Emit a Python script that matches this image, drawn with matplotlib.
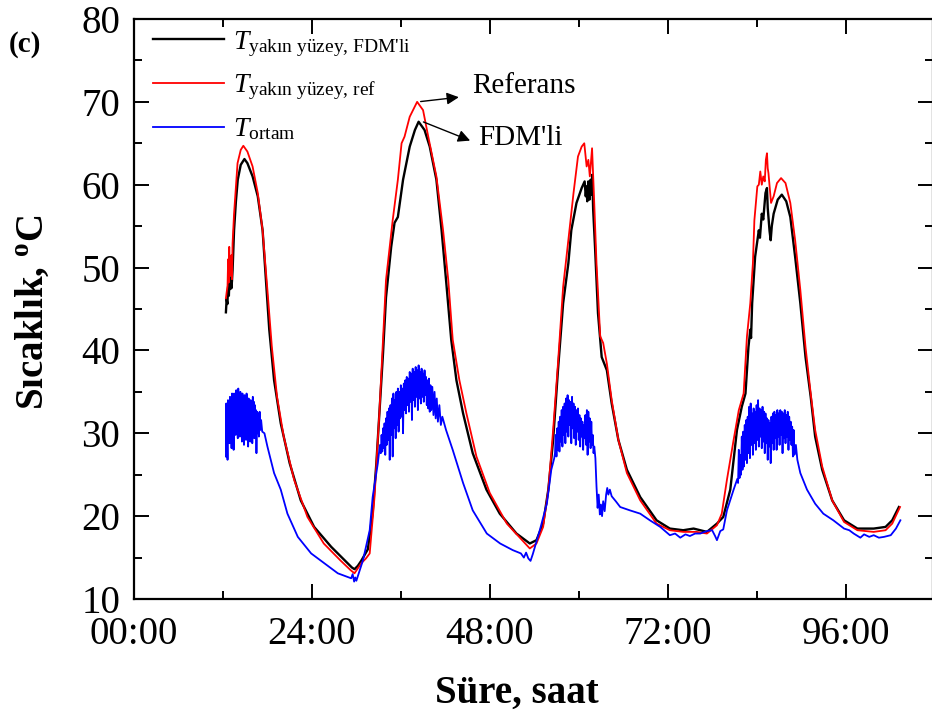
import matplotlib
matplotlib.use("Agg")
import matplotlib.pyplot as plt
from matplotlib.ticker import MultipleLocator, FuncFormatter

plt.rcParams['font.family'] = ['Liberation Serif', 'DejaVu Serif']
plt.rcParams['mathtext.fontset'] = 'custom'
plt.rcParams['mathtext.rm'] = 'Liberation Serif'
plt.rcParams['mathtext.it'] = 'Liberation Serif:italic'
plt.rcParams['mathtext.bf'] = 'Liberation Serif:bold'

# (saat, sicaklik) okunan degerler
fdm_pts = [
    (12.40, 44.6), (12.50, 46.2), (12.60, 45.6), (12.70, 47.7), (12.80, 46.6), (12.88, 48.9),
    (12.96, 47.4), (13.05, 48.6), (13.14, 47.5), (13.22, 48.4), (13.30, 49.7), (13.50, 54.5),
    (13.75, 58.0), (14.00, 60.6), (14.40, 62.4), (14.90, 63.1), (15.30, 62.6), (16.00, 61.0),
    (16.70, 58.6), (17.35, 54.5), (17.80, 48.5), (18.25, 42.5), (18.90, 36.4), (19.80, 31.2),
    (21.00, 26.4), (22.50, 21.9), (24.30, 18.7), (26.60, 16.3), (28.40, 14.7), (29.40, 13.8),
    (29.75, 13.6), (30.20, 14.0), (30.65, 14.6), (31.55, 16.0), (32.20, 20.4), (32.70, 26.4),
    (33.10, 32.4), (33.60, 39.7), (34.00, 46.4), (34.70, 52.5), (35.15, 55.4), (35.60, 56.1),
    (36.30, 60.6), (37.20, 64.6), (37.90, 66.6), (38.40, 67.6), (39.20, 66.6), (39.90, 64.6),
    (40.80, 60.6), (41.50, 54.5), (42.10, 48.5), (42.80, 41.3), (43.50, 36.4), (44.40, 32.4),
    (45.70, 27.6), (47.55, 23.2), (49.35, 20.3), (51.60, 17.9), (53.40, 16.7), (54.30, 17.1),
    (55.20, 19.1), (55.90, 23.2), (56.55, 29.2), (57.20, 37.6), (57.90, 45.7), (58.60, 50.5),
    (59.00, 54.5), (59.70, 57.8), (60.40, 59.6), (60.80, 60.4), (60.95, 58.6), (61.07, 59.8),
    (61.15, 58.0), (61.30, 60.4), (61.45, 58.2), (61.60, 60.6), (61.72, 58.8), (61.82, 61.2),
    (61.95, 57.0), (62.20, 52.5), (62.60, 44.5), (63.10, 39.2), (63.80, 37.6), (64.45, 33.6),
    (65.35, 29.2), (66.50, 25.6), (68.30, 22.3), (70.50, 19.5), (72.30, 18.5), (74.10, 18.3),
    (75.50, 18.5), (77.30, 18.1), (78.65, 19.1), (79.50, 19.9), (80.45, 23.2), (81.35, 30.4),
    (82.00, 33.2), (82.50, 34.8), (82.90, 40.4), (83.15, 42.5), (83.25, 41.5), (83.40, 45.7),
    (83.80, 51.3), (84.30, 54.5), (84.45, 53.6), (84.70, 56.5), (84.90, 55.8), (85.20, 59.0),
    (85.40, 59.6), (85.50, 57.2), (85.60, 56.1), (85.75, 54.4), (85.90, 53.3), (86.05, 55.0),
    (86.30, 56.5), (86.85, 58.2), (87.40, 58.8), (88.00, 58.0), (88.55, 56.1), (89.20, 51.3),
    (89.90, 45.7), (90.60, 39.2), (91.30, 34.4), (91.90, 29.6), (92.85, 25.6), (94.20, 21.9),
    (95.80, 19.5), (97.60, 18.5), (99.80, 18.5), (101.40, 18.7), (102.30, 19.5), (103.20, 21.1),
]

ref_pts = [
    (12.40, 46.3), (12.50, 47.0), (12.62, 47.8), (12.70, 51.0), (12.78, 48.2), (12.85, 52.5),
    (12.93, 49.0), (13.00, 50.5), (13.07, 49.3), (13.15, 51.5), (13.22, 48.6), (13.30, 52.9),
    (13.50, 56.5), (13.97, 62.6), (14.40, 64.2), (14.75, 64.7), (15.30, 64.0), (16.00, 62.2),
    (16.70, 59.0), (17.35, 54.5), (18.00, 47.3), (18.60, 40.4), (19.30, 34.4), (20.20, 29.6),
    (21.60, 24.4), (23.40, 19.9), (25.60, 16.7), (27.80, 14.7), (29.20, 13.5), (29.75, 13.1),
    (30.65, 14.3), (31.30, 14.9), (31.80, 15.5), (32.45, 22.3), (33.10, 32.4), (34.00, 48.5),
    (34.90, 55.7), (35.60, 60.6), (36.10, 65.0), (36.50, 65.8), (37.20, 68.2), (38.20, 70.0),
    (39.00, 69.0), (39.70, 65.8), (40.80, 61.0), (41.70, 54.5), (42.40, 48.5), (43.00, 41.3),
    (43.90, 36.4), (44.85, 32.4), (46.20, 27.2), (48.00, 22.8), (50.30, 19.1), (53.40, 16.1),
    (54.30, 16.7), (55.20, 18.7), (55.90, 23.2), (56.55, 30.4), (57.20, 38.4), (57.90, 47.7),
    (58.60, 53.3), (59.30, 59.0), (59.90, 63.4), (60.40, 64.6), (60.75, 65.0), (61.07, 62.2),
    (61.30, 63.0), (61.50, 61.0), (61.80, 64.4), (62.06, 58.6), (62.40, 50.5), (62.90, 41.7),
    (63.30, 40.9), (63.80, 38.4), (64.45, 34.0), (65.35, 29.2), (66.50, 25.2), (68.30, 21.9),
    (70.50, 19.1), (72.30, 18.3), (74.10, 18.1), (75.90, 18.1), (77.30, 17.9), (78.65, 18.9),
    (79.30, 20.3), (80.00, 24.4), (80.90, 29.2), (81.60, 32.8), (82.25, 34.8), (82.70, 41.7),
    (83.15, 45.7), (83.50, 50.5), (83.70, 55.7), (84.10, 59.8), (84.30, 60.0), (84.50, 61.6),
    (84.70, 60.0), (84.90, 61.0), (85.10, 60.4), (85.25, 63.0), (85.40, 63.8), (85.50, 62.0),
    (85.60, 61.4), (85.95, 57.8), (86.30, 58.6), (86.75, 60.2), (87.30, 60.8), (87.90, 60.2),
    (88.55, 57.8), (89.20, 53.3), (89.90, 47.3), (90.60, 40.4), (91.30, 34.8), (91.90, 30.4),
    (92.85, 26.0), (94.20, 21.9), (95.80, 19.3), (97.60, 18.3), (99.80, 18.1), (101.40, 18.3),
    (102.30, 19.1), (103.35, 21.1),
]

ortam_pts = [
    (12.40, 27.2), (12.45, 33.6), (12.50, 27.8), (12.56, 31.0), (12.62, 26.8), (12.68, 34.0),
    (12.75, 29.2), (12.82, 33.4), (12.88, 28.8), (12.95, 34.4), (13.02, 29.6), (13.09, 33.0),
    (13.16, 28.2), (13.23, 34.8), (13.30, 30.2), (13.37, 33.6), (13.44, 28.0), (13.51, 34.8),
    (13.58, 30.6), (13.65, 34.2), (13.72, 29.8), (13.79, 35.2), (13.86, 31.0), (13.93, 34.4),
    (14.00, 29.4), (14.07, 35.4), (14.14, 30.8), (14.21, 34.6), (14.28, 29.6), (14.35, 35.0),
    (14.42, 31.2), (14.49, 34.4), (14.56, 29.0), (14.63, 34.8), (14.70, 30.6), (14.77, 33.8),
    (14.84, 28.6), (14.91, 34.6), (14.98, 30.4), (15.05, 34.0), (15.12, 29.2), (15.19, 34.8),
    (15.26, 30.8), (15.33, 33.6), (15.40, 28.4), (15.47, 34.2), (15.54, 30.6), (15.61, 33.4),
    (15.68, 29.0), (15.75, 34.0), (15.82, 30.8), (15.89, 33.2), (15.96, 28.8), (16.03, 34.4),
    (16.10, 30.6), (16.17, 33.8), (16.24, 29.4), (16.31, 33.4), (16.38, 30.8), (16.45, 32.8),
    (16.52, 27.6), (16.60, 32.6), (16.68, 30.0), (16.76, 32.4), (16.85, 29.6), (16.95, 32.6),
    (17.05, 30.4), (17.15, 31.6), (17.30, 30.2), (17.60, 30.0), (18.00, 28.4), (18.90, 25.2),
    (19.80, 23.2), (20.70, 20.3), (22.10, 17.5), (23.90, 15.5), (25.70, 14.3), (27.50, 13.1),
    (29.30, 12.5), (29.50, 13.0), (29.70, 12.1), (29.85, 12.6), (30.00, 12.2), (30.90, 14.7),
    (31.30, 16.3), (31.80, 18.3), (32.20, 22.3), (32.90, 26.4), (33.10, 28.0),
    (33.20, 28.6), (33.30, 27.6), (33.40, 29.8), (33.50, 27.8), (33.60, 30.6), (33.70, 28.2),
    (33.80, 31.2), (33.90, 27.4), (34.00, 31.8), (34.10, 28.6), (34.20, 32.6), (34.30, 29.2),
    (34.40, 33.0), (34.50, 26.8), (34.60, 33.4), (34.70, 29.8), (34.80, 34.2), (34.90, 27.2),
    (35.00, 34.8), (35.10, 30.6), (35.20, 34.0), (35.30, 29.4), (35.40, 35.0), (35.50, 31.0),
    (35.60, 35.4), (35.70, 30.2), (35.80, 35.0), (35.90, 31.8), (36.00, 35.8), (36.10, 32.0),
    (36.20, 35.4), (36.30, 30.0), (36.40, 36.0), (36.50, 32.8), (36.60, 36.4), (36.70, 32.4),
    (36.80, 36.8), (36.90, 33.4), (37.00, 36.6), (37.10, 32.6), (37.20, 37.4), (37.30, 33.8),
    (37.40, 37.2), (37.50, 31.6), (37.60, 37.8), (37.70, 34.0), (37.80, 37.4), (37.90, 33.2),
    (38.00, 38.0), (38.10, 34.4), (38.20, 37.6), (38.30, 32.8), (38.40, 38.2), (38.50, 34.2),
    (38.60, 37.4), (38.70, 33.6), (38.80, 37.8), (38.90, 34.4), (39.00, 37.2), (39.10, 33.8),
    (39.20, 37.6), (39.30, 34.6), (39.40, 36.8), (39.50, 33.4), (39.60, 36.4), (39.70, 33.0),
    (39.80, 36.6), (39.90, 32.6), (40.00, 35.8), (40.10, 32.8), (40.25, 35.6), (40.40, 32.2),
    (40.55, 35.0), (40.70, 31.8), (40.85, 34.2), (41.00, 31.4), (41.20, 33.4), (41.40, 31.0),
    (41.60, 32.0), (42.10, 30.4), (43.00, 28.0), (44.40, 24.0), (45.70, 20.7), (47.60, 17.9),
    (49.40, 16.7), (51.10, 15.9), (52.20, 15.5), (52.60, 15.0), (52.90, 15.6), (53.20, 14.9),
    (53.50, 14.6), (53.80, 15.4), (54.75, 18.3), (55.70, 21.5), (56.30, 25.6), (56.70, 27.0),
    (56.80, 27.6), (56.90, 29.8), (57.00, 27.2), (57.10, 30.6), (57.20, 28.0), (57.30, 31.4),
    (57.40, 27.8), (57.50, 32.0), (57.60, 29.0), (57.70, 32.8), (57.80, 28.4), (57.90, 33.2),
    (58.00, 29.8), (58.10, 33.6), (58.20, 28.8), (58.30, 34.2), (58.40, 30.2), (58.50, 34.6),
    (58.60, 29.6), (58.70, 34.0), (58.80, 31.0), (58.90, 33.8), (59.00, 28.8), (59.10, 34.4),
    (59.20, 30.6), (59.30, 33.6), (59.40, 29.4), (59.50, 33.2), (59.60, 28.6), (59.70, 32.8),
    (59.80, 30.2), (59.90, 33.0), (60.00, 29.2), (60.10, 32.2), (60.20, 28.4), (60.30, 31.8),
    (60.40, 29.6), (60.50, 31.4), (60.60, 28.0), (60.70, 31.0), (60.80, 29.4), (60.90, 32.2),
    (61.00, 28.6), (61.10, 32.8), (61.20, 27.4), (61.30, 32.6), (61.40, 29.0), (61.50, 31.8),
    (61.60, 28.2), (61.70, 31.4), (61.80, 28.6), (61.90, 29.8), (62.00, 27.6), (62.10, 28.4),
    (62.25, 27.0), (62.40, 23.6), (62.55, 21.0), (62.70, 22.6), (62.85, 20.2), (63.00, 21.4),
    (63.15, 20.0), (63.30, 21.8), (63.50, 20.6), (63.70, 22.6), (63.85, 23.4), (64.00, 22.6),
    (64.20, 23.2), (64.45, 22.4), (65.00, 21.8), (65.60, 21.1), (66.90, 20.7), (68.30, 20.3),
    (69.60, 19.5), (71.00, 18.7), (72.30, 17.7), (73.00, 17.9), (73.70, 17.4), (74.40, 17.8),
    (75.00, 17.6), (75.70, 17.9), (76.40, 17.9), (77.30, 18.2), (78.00, 18.3), (78.40, 17.6),
    (78.65, 17.1), (79.10, 18.2), (79.50, 18.4), (80.00, 20.7), (80.90, 23.2), (81.40, 24.5),
    (81.50, 24.0), (81.60, 28.0), (81.70, 24.6), (81.80, 27.4), (81.90, 25.0), (82.00, 29.6),
    (82.10, 25.6), (82.20, 30.2), (82.30, 26.0), (82.40, 31.0), (82.50, 26.8), (82.60, 31.6),
    (82.70, 26.4), (82.80, 32.0), (82.90, 27.6), (83.00, 33.2), (83.10, 27.0), (83.20, 33.6),
    (83.30, 28.6), (83.40, 32.4), (83.50, 27.4), (83.60, 33.0), (83.70, 28.8), (83.80, 32.6),
    (83.90, 28.0), (84.00, 33.4), (84.10, 29.2), (84.20, 34.0), (84.30, 28.4), (84.40, 33.0),
    (84.50, 29.6), (84.60, 32.8), (84.70, 28.2), (84.80, 33.2), (84.90, 29.0), (85.00, 32.6),
    (85.10, 27.6), (85.20, 32.4), (85.30, 28.8), (85.40, 31.8), (85.50, 26.8), (85.60, 31.6),
    (85.70, 28.4), (85.80, 31.2), (85.90, 26.4), (86.00, 32.0), (86.10, 28.8), (86.20, 32.4),
    (86.30, 28.0), (86.40, 32.6), (86.50, 29.4), (86.60, 32.2), (86.70, 28.0), (86.80, 32.8),
    (86.90, 29.6), (87.00, 32.4), (87.10, 28.6), (87.20, 32.8), (87.30, 29.8), (87.40, 32.6),
    (87.50, 27.6), (87.60, 32.4), (87.70, 29.4), (87.80, 32.8), (87.90, 28.8), (88.00, 32.2),
    (88.10, 29.6), (88.20, 32.6), (88.30, 28.0), (88.40, 32.0), (88.50, 29.2), (88.60, 31.4),
    (88.70, 28.6), (88.80, 30.8), (88.90, 27.2), (89.00, 30.4), (89.10, 27.4), (89.30, 28.6),
    (89.50, 26.8), (89.90, 25.2), (90.80, 23.2), (91.90, 21.5), (93.00, 20.3), (94.35, 19.5),
    (95.80, 18.5), (96.50, 18.3), (97.10, 17.9), (98.00, 17.4), (98.50, 17.8), (99.20, 17.5),
    (99.80, 17.7), (100.50, 17.4), (101.20, 17.5), (102.10, 17.7), (102.80, 18.5), (103.40, 19.5),
]

tick_hours = [0, 24, 48, 72, 96]
legend_labels = [r"$T_{\text{yakın yüzey, FDM'li}}$",
                 r"$T_{\text{yakın yüzey, ref}}$",
                 r"$T_{\text{ortam}}$"]

fig = plt.figure(figsize=(9.32, 7.2), dpi=100)
ax = fig.add_axes([134 / 932, 1 - 599 / 720, 799 / 932, 580 / 720])

t, v = zip(*fdm_pts)
ax.plot(t, v, color='black', lw=1.7, label=legend_labels[0])
t, v = zip(*ref_pts)
ax.plot(t, v, color='red', lw=1.3, label=legend_labels[1])
t, v = zip(*ortam_pts)
ax.plot(t, v, color='blue', lw=1.3, label=legend_labels[2])

ax.set_xlim(0, 107.8)
ax.set_ylim(10, 80)
ax.set_xticks(tick_hours)
ax.xaxis.set_major_formatter(FuncFormatter(lambda x, p: "%02d:00" % int(round(x))))
ax.xaxis.set_minor_locator(MultipleLocator(12))
ax.yaxis.set_major_locator(MultipleLocator(10))
ax.yaxis.set_minor_locator(MultipleLocator(5))
ax.tick_params(which='both', direction='in', top=True, right=True, width=1.4)
ax.tick_params(which='major', length=11, labelsize=28)
ax.tick_params(which='minor', length=6)
ax.tick_params(axis='x', pad=12)
ax.tick_params(axis='y', pad=10)
for s in ax.spines.values():
    s.set_linewidth(1.6)

fig.text(33 / 932, 1 - 312 / 720, r'Sıcaklık, $^{\mathbf{o}}$C', rotation=90,
         ha='center', va='center', fontsize=28, fontweight='bold')
fig.text(517 / 932, 1 - 693 / 720, 'Süre, saat', ha='center', va='center',
         fontsize=28, fontweight='bold')
fig.text(9 / 932, 1 - 45 / 720, '(c)', ha='left', va='center', fontsize=21, fontweight='bold')

ax.legend(loc='upper left', bbox_to_anchor=(0.0, 1.016), frameon=False, fontsize=20,
          handlelength=2.55, handletextpad=0.3, labelspacing=0.5, borderaxespad=0.3)

ax.annotate('', xy=(44.2, 70.6), xytext=(38.3, 70.0),
            arrowprops=dict(arrowstyle='-|>', color='black', lw=1, mutation_scale=18))
ax.annotate('', xy=(45.7, 65.2), xytext=(38.7, 67.7),
            arrowprops=dict(arrowstyle='-|>', color='black', lw=1, mutation_scale=18))
ax.text(45.6, 71.9, 'Referans', fontsize=21, ha='left', va='center')
ax.text(46.4, 65.6, "FDM'li", fontsize=21, ha='left', va='center')

fig.savefig('out.png', dpi=100)
